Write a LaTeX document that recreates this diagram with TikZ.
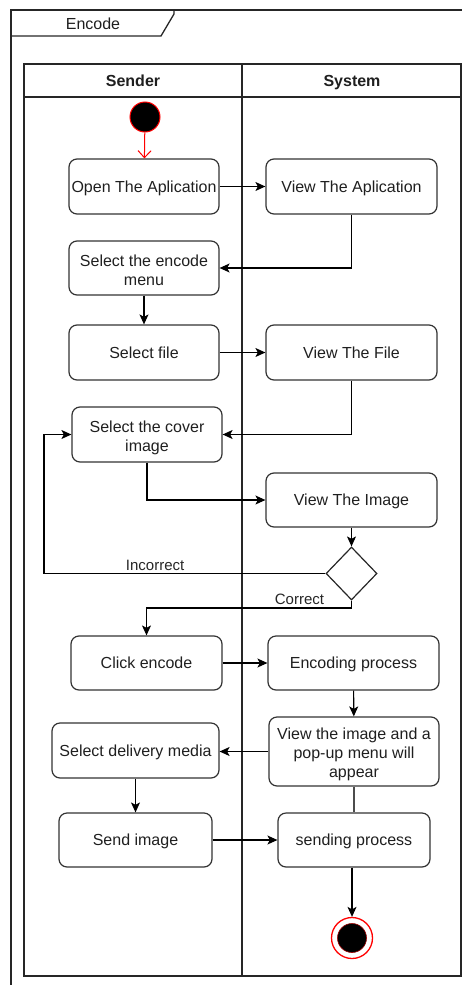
\documentclass[tikz,border=0pt]{standalone}
\usepackage{fontspec}
\setmainfont{Liberation Sans}
\usetikzlibrary{arrows.meta,shapes.geometric}

% fixed line box so every activity text sits like a full line
\newcommand{\linebox}{\rule[-4pt]{0pt}{19pt}}
% wrapped activity text: #1 height and #2 depth round the first baseline
\newcommand{\stackedtext}[3]{%
  \raisebox{0pt}[#1][#2]{\fontsize{16}{19}\selectfont
    \begin{tabular}[t]{@{}c@{}}#3\end{tabular}}}

\begin{document}
\begin{tikzpicture}[x=1pt,y=-1pt,
  txt/.style={font=\fontsize{16}{20}\selectfont, text=black!88},
  act/.style={txt, draw=black!80, line width=1.2pt, rounded corners=8pt,
    inner sep=0pt,
    execute at begin node=\linebox, execute at end node=\linebox},
  lane/.style={draw=black!85, line width=1.3pt},
  flow/.style={line width=1.1pt, draw=black,
    -{Stealth[length=10pt,width=9pt,inset=2.5pt]}},
  plain/.style={line width=1.1pt, draw=black!70},
  lbl/.style={font=\fontsize{15}{18}\selectfont, text=black!85,
    inner sep=0pt, anchor=base}
]
\useasboundingbox (0,0) rectangle (462,985);

% diagram frame with its name tab
\draw[lane] (11,985) -- (11,10) -- (462,10);
\draw[lane] (11,36) -- (161,36) -- (174,14) -- (174,10);
\node[txt, anchor=base] (title) at (93,29) {Encode};

% swimlane pool
\draw[lane] (24,64) rectangle (461,976);
\draw[lane] (24,97) -- (461,97);
\draw[lane] (242,64) -- (242,976);
\node[txt, font=\fontsize{16}{20}\bfseries, anchor=base] (sender) at (133,86) {Sender};
\node[txt, font=\fontsize{16}{20}\bfseries, anchor=base] (system) at (352,86) {System};

% start node
\node[circle, fill=black, draw=red, line width=1pt, minimum size=30pt,
  inner sep=0pt] (start) at (145,117) {};

% activities: sender lane
\node[act, minimum width=150pt, minimum height=55pt] (open) at (144,186.5) {Open The Aplication};
\node[act, minimum width=150pt, minimum height=54pt] (encmenu) at (144,268) {\stackedtext{17pt}{21pt}{Select the encode\\menu}};
\node[act, minimum width=150pt, minimum height=55pt] (selfile) at (144,352.5) {Select file};
\node[act, minimum width=150pt, minimum height=55pt] (cover) at (147,434.5) {\stackedtext{16.8pt}{21.2pt}{Select the cover\\image}};
\node[act, minimum width=151pt, minimum height=54pt] (click) at (146.5,663) {Click encode};
\node[act, minimum width=167pt, minimum height=55pt] (deliv) at (135.5,750.5) {Select delivery media};
\node[act, minimum width=153pt, minimum height=54pt] (send) at (135.5,840) {Send image};

% activities: system lane
\node[act, minimum width=171pt, minimum height=55pt] (vapp) at (351.5,186.5) {View The Aplication};
\node[act, minimum width=171pt, minimum height=55pt] (vfile) at (351.5,352.5) {View The File};
\node[act, minimum width=171pt, minimum height=54pt] (vimg) at (351.5,500) {View The Image};
\node[act, minimum width=171pt, minimum height=54pt] (encp) at (353.5,663) {Encoding process};
\node[act, minimum width=170pt, minimum height=69pt] (popup) at (354,751.5) {\stackedtext{16pt}{41pt}{View the image and a\\pop-up menu will\\appear}};
\node[act, minimum width=152pt, minimum height=54pt] (sendp) at (354,840) {sending process};

% decision
\node[diamond, draw=black!85, line width=1.2pt, minimum width=51pt,
  minimum height=53pt, inner sep=0pt] (dec) at (351.5,573.5) {};

% final node
\node[circle, fill=white, draw=red, line width=1.3pt, minimum size=41pt,
  inner sep=0pt] (endn) at (352,938) {};
\node[circle, fill=black, draw=red!60!black, line width=0.6pt, minimum size=29pt,
  inner sep=0pt] (endcore) at (352,938) {};

% bend points
\coordinate (incbend) at (44,573.5);
\coordinate (corbend) at (351.5,608);

% control flow
\draw[red, line width=1pt, -{Straight Barb[length=7pt,width=13pt]}] (start) -- (open);
\draw[flow] (open) -- (vapp);
\draw[flow] (vapp.south) |- (encmenu.east);
\draw[flow] (encmenu) -- (selfile);
\draw[flow] (selfile) -- (vfile);
\draw[flow] (vfile.south) |- (cover.east);
\draw[flow] (cover.south) |- (vimg.west);
\draw[flow] (vimg) -- (dec);
\draw[flow] (dec.west) -- node[lbl, pos=0.605, yshift=3.5pt] {Incorrect} (incbend) |- (cover.west);
\draw[flow] (dec.south) -- (corbend) -| node[lbl, pos=0.127, yshift=4pt] {Correct} (click.north);
\draw[flow] (click) -- (encp);
\draw[flow] (encp) -- (popup);
\draw[flow] (popup.west) -- (popup.west -| deliv.east);
\draw[flow] (deliv.south -| send.north) -- (send.north);
\draw[flow] (send) -- (sendp);
\draw[plain] (popup.south) -- (sendp.north);
\draw[flow] (sendp.south -| endn.north) -- (endn.north);
\end{tikzpicture}
\end{document}
